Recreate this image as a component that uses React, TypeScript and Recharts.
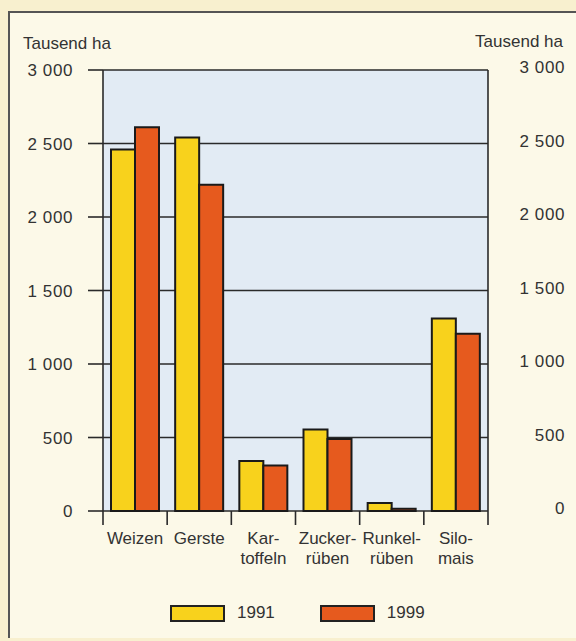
import React from 'react';
import { BarChart, Bar, XAxis, YAxis, CartesianGrid, Legend } from 'recharts';

const categories = ['Weizen', 'Gerste', 'Kartoffeln', 'Zuckerrüben', 'Runkelrüben', 'Silomais'];
const categoryLines: string[][] = [
  ['Weizen'],
  ['Gerste'],
  ['Kar-', 'toffeln'],
  ['Zucker-', 'rüben'],
  ['Runkel-', 'rüben'],
  ['Silo-', 'mais'],
];
const values1991 = [2460, 2540, 340, 555, 55, 1310];
const values1999 = [2610, 2220, 310, 490, 15, 1205];
const yTicks = [0, 500, 1000, 1500, 2000, 2500, 3000];
const yTickLabels = ['0', '500', '1 000', '1 500', '2 000', '2 500', '3 000'];
const unitLabel = 'Tausend ha';
const seriesNames = ['1991', '1999'];

const data = categories.map((c, i) => ({
  name: c,
  v1991: values1991[i],
  v1999: values1999[i],
}));

const W = 576;
const H = 641;
const LEFT_W = 103;
const RIGHT_W = 88;
const PLOT_W = W - LEFT_W - RIGHT_W;
const STEP = PLOT_W / categories.length;
const RIGHT_LABEL_END = 565;
const TEXT = '#333333';
const LINE = '#2a2a2a';
const YELLOW = '#f8d21c';
const ORANGE = '#e65a1e';
const FONT = 'Liberation Sans, Arial, Helvetica, sans-serif';

const fmt = (v: number) => yTickLabels[yTicks.indexOf(v)] ?? String(v);

const XTick = (props: any) => {
  const { x, y, payload, index } = props;
  const lines: string[] = categoryLines[index] || [payload.value];
  return (
    <g>
      <line x1={x - STEP / 2} x2={x - STEP / 2} y1={y} y2={y + 14} stroke={LINE} strokeWidth={1.6} />
      {index === categories.length - 1 && (
        <line x1={x + STEP / 2} x2={x + STEP / 2} y1={y} y2={y + 14} stroke={LINE} strokeWidth={1.6} />
      )}
      {lines.map((l, i) => (
        <text key={i} x={x} y={y + 33 + i * 20} textAnchor="middle" fill={TEXT} fontSize={17} fontFamily={FONT}>
          {l}
        </text>
      ))}
    </g>
  );
};

// Left axis tick also draws the mirrored label on the right side
const LeftTick = (props: any) => {
  const { x, y, payload } = props;
  const label = fmt(payload.value);
  return (
    <g>
      <text x={x} y={y} dy={6} textAnchor="end" fill={TEXT} fontSize={17} fontFamily={FONT} letterSpacing={0.6}>
        {label}
      </text>
      <text x={RIGHT_LABEL_END} y={y - 3} dy={6} textAnchor="end" fill={TEXT} fontSize={17} fontFamily={FONT} letterSpacing={0.6}>
        {label}
      </text>
    </g>
  );
};

const LegendContent = () => (
  <div style={{ display: 'flex', alignItems: 'center', fontFamily: FONT, fontSize: 17, color: TEXT }}>
    {[YELLOW, ORANGE].map((c, i) => (
      <div key={i} style={{ display: 'flex', alignItems: 'center', marginRight: i === 0 ? 45 : 0 }}>
        <div style={{ width: 51, height: 13, background: c, border: '2px solid #222', marginRight: 12 }} />
        <span>{seriesNames[i]}</span>
      </div>
    ))}
  </div>
);

export default function App() {
  return (
    <div style={{ position: 'fixed', left: 0, top: 0, width: W, height: H, background: '#f8f0cf', overflow: 'hidden' }}>
      <div
        style={{
          position: 'absolute',
          left: 8,
          top: 11,
          width: W,
          height: 625,
          background: '#fcf9e8',
          borderLeft: '2px solid #555',
          borderTop: '2px solid #555',
        }}
      />
      <div style={{ position: 'absolute', left: 23, top: 34, fontFamily: FONT, fontSize: 17, color: TEXT }}>{unitLabel}</div>
      <div style={{ position: 'absolute', right: 13, top: 32, fontFamily: FONT, fontSize: 17, color: TEXT }}>{unitLabel}</div>
      <div style={{ position: 'absolute', left: 0, top: 0 }}>
        <BarChart
          width={W}
          height={H}
          data={data}
          margin={{ top: 70, right: 0, left: 0, bottom: 0 }}
          barGap={0}
          barSize={24}
        >
          <CartesianGrid
            yAxisId="left"
            horizontal
            vertical={false}
            fill="#e2ebf4"
            fillOpacity={1}
            stroke={LINE}
            strokeWidth={1.5}
            strokeOpacity={1}
          />
          <XAxis
            dataKey="name"
            height={110}
            tickLine={false}
            axisLine={false}
            tickSize={0}
            tickMargin={0}
            interval={0}
            tick={<XTick />}
          />
          <YAxis
            yAxisId="left"
            orientation="left"
            width={LEFT_W}
            domain={[0, 3000]}
            ticks={yTicks}
            tickSize={15}
            tickMargin={15}
            tickLine={{ stroke: LINE, strokeWidth: 1.6 }}
            axisLine={{ stroke: LINE, strokeWidth: 1.6 }}
            tick={<LeftTick />}
            interval={0}
          />
          <YAxis
            yAxisId="right"
            orientation="right"
            width={RIGHT_W}
            domain={[0, 3000]}
            ticks={yTicks}
            tickSize={14}
            tickMargin={0}
            tickLine={{ stroke: LINE, strokeWidth: 1.6 }}
            axisLine={{ stroke: LINE, strokeWidth: 1.6 }}
            tick={false}
            interval={0}
          />
          <Bar yAxisId="left" dataKey="v1991" name={seriesNames[0]} fill={YELLOW} stroke="#1a1a1a" strokeWidth={2} isAnimationActive={false} />
          <Bar yAxisId="left" dataKey="v1999" name={seriesNames[1]} fill={ORANGE} stroke="#1a1a1a" strokeWidth={2} isAnimationActive={false} />
          <Legend
            content={<LegendContent />}
            wrapperStyle={{ position: 'absolute', left: 170, top: 603, width: 300, height: 20 }}
          />
        </BarChart>
      </div>
    </div>
  );
}
